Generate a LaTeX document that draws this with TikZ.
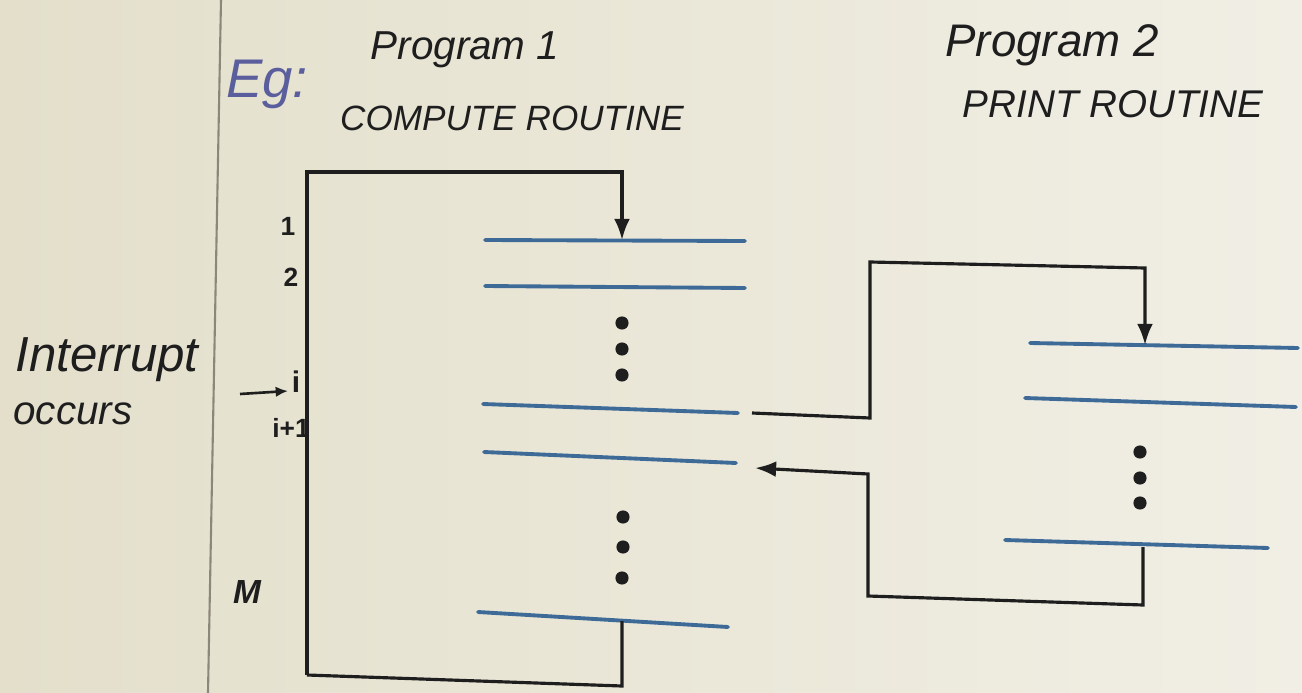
\documentclass[tikz,border=0pt]{standalone}
\usepackage{fontspec}
\setmainfont{Liberation Sans}
\usetikzlibrary{arrows.meta}
\definecolor{paper}{HTML}{E3DFCB}
\definecolor{paperR}{HTML}{F1EFE5}
\definecolor{ink}{HTML}{1E1E1E}
\definecolor{penblue}{HTML}{3E6A98}
\definecolor{egblue}{HTML}{5A5E9C}
\definecolor{marginc}{HTML}{8C877A}
\tikzset{
  inkline/.style={draw=ink,line width=1.8pt},
  codeline/.style={draw=penblue,line width=2.2pt,line cap=round},
  hand/.style={text=ink,inner sep=0pt},
  dotmark/.style={circle,fill=ink,inner sep=0pt,minimum size=7.5pt},
  tipped/.style={-{Latex[length=12pt,width=9pt]}},
}
\newcommand{\fs}[1]{\fontsize{#1}{#1}\selectfont}
\begin{document}
\begin{tikzpicture}[x=0.02cm,y=-0.02cm]
\useasboundingbox (0,0) rectangle (1302,693);
\shade[left color=paper,right color=paperR] (0,0) rectangle (1302,693);
\draw[marginc,line width=1.2pt] (221,0) -- (208,693);

% headings
\node[hand,text=egblue,font=\fs{31}\itshape] (eg) at (267,84) {Eg:};
\node[hand,font=\fs{23}\itshape] (p1) at (465,50) {Program 1};
\node[hand,font=\fs{20}\itshape] (p1r) at (512,118) {COMPUTE ROUTINE};
\node[hand,font=\fs{26}\itshape] (p2) at (1052,45) {Program 2};
\node[hand,font=\fs{22}\itshape] (p2r) at (1113,104) {PRINT ROUTINE};
\node[hand,font=\fs{28}\itshape] (intr) at (107,360) {Interrupt};
\node[hand,font=\fs{23}\itshape] (occ) at (73,414) {occurs};

% line labels
\node[hand,font=\fs{15}\bfseries] (n1) at (288,226) {1};
\node[hand,font=\fs{15}\bfseries] (n2) at (291,277) {2};
\node[hand,font=\fs{17}\bfseries] (ni) at (296,382) {i};
\node[hand,font=\fs{15}\bfseries] (ni1) at (291,428) {i+1};
\node[hand,font=\fs{19}\bfseries\itshape] (nm) at (247,592) {M};
\coordinate (ia0) at (240,394);
\coordinate (ia1) at (288,391);
\draw[inkline,line width=1.5pt,-{Latex[length=7pt,width=6pt]}] (ia0) -- (ia1);

% program 1 lines
\coordinate (a1L) at (485,240); \coordinate (a1R) at (745,241);
\coordinate (a2L) at (485,286); \coordinate (a2R) at (745,288);
\coordinate (aiL) at (483,404); \coordinate (aiR) at (738,413);
\coordinate (ajL) at (484,452); \coordinate (ajR) at (736,463);
\coordinate (amL) at (478,612); \coordinate (amR) at (728,627);
\draw[codeline] (a1L) -- (a1R);
\draw[codeline] (a2L) -- (a2R);
\draw[codeline] (aiL) -- (aiR);
\draw[codeline] (ajL) -- (ajR);
\draw[codeline] (amL) -- (amR);
\node[dotmark] (d1) at (622,323) {};
\node[dotmark] (d2) at (622,349) {};
\node[dotmark] (d3) at (622,375) {};
\node[dotmark] (d4) at (623,517) {};
\node[dotmark] (d5) at (623,547) {};
\node[dotmark] (d6) at (622,578) {};

% program 2 lines
\coordinate (b1L) at (1030,343); \coordinate (b1R) at (1298,348);
\coordinate (b2L) at (1025,398); \coordinate (b2R) at (1296,407);
\coordinate (b3L) at (1005,540); \coordinate (b3R) at (1268,548);
\draw[codeline] (b1L) -- (b1R);
\draw[codeline] (b2L) -- (b2R);
\draw[codeline] (b3L) -- (b3R);
\node[dotmark] (e1) at (1140,452) {};
\node[dotmark] (e2) at (1140,478) {};
\node[dotmark] (e3) at (1140,503) {};

% program 1 loop
\coordinate (botL) at (307,675);
\coordinate (topL) at (307,172);
\coordinate (topR) at (622,172);
\coordinate (a1in) at (622,240);
\coordinate (amout) at (622,621);
\coordinate (botR) at (622,686);
\draw[inkline,tipped] (botL) -- (topL) -- (topR) -- (a1in);
\draw[inkline] (amout) -- (botR) -- (botL);

% jump to program 2
\coordinate (iout) at (752,413);
\coordinate (c1) at (870,418);
\coordinate (c2) at (870,262);
\coordinate (c3) at (1145,268);
\coordinate (b1in) at (1145,345);
\draw[inkline,tipped] (iout) -- (c1) -- (c2) -- (c3) -- (b1in);

% return from program 2
\coordinate (b3out) at (1143,547);
\coordinate (r1) at (1143,605);
\coordinate (r2) at (868,596);
\coordinate (r3) at (868,474);
\coordinate (ajin) at (755,468);
\draw[inkline,tipped] (b3out) -- (r1) -- (r2) -- (r3) -- (ajin);
\end{tikzpicture}
\end{document}
